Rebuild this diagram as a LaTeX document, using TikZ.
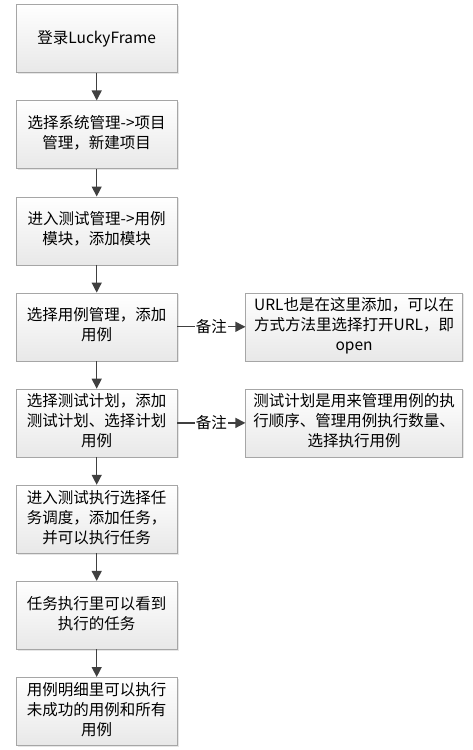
\documentclass[tikz,border=0pt]{standalone}
\usepackage{fontspec}
\setmainfont{Noto Sans CJK SC}
\usepackage{tikz}
\usetikzlibrary{positioning}
\usetikzlibrary{shadows}
\usetikzlibrary{arrows.meta}
\begin{document}
\begin{tikzpicture}[x=1pt,y=1pt]
% définition des paramètres
\tikzstyle etapelucky=[draw=black!35,top color=white,bottom color=black!9,drop shadow={shadow xshift=1.5pt,shadow yshift=-1.5pt,opacity=0.2},minimum width=161pt,minimum height=68pt,inner sep=0pt,font=\fontsize{15.5}{20}\selectfont]
\tikzstyle notelucky=[etapelucky,minimum width=217pt]
\tikzstyle flechelucky=[draw=black!75,line width=1.3pt,-{Triangle[length=10pt,width=10pt]}]
\tikzstyle remarquelucky=[fill=white,inner sep=1pt,font=\fontsize{15.5}{20}\selectfont]
\newcommand{\ecartlucky}{27.7pt} % espace entre deux étapes
\newcommand{\ecartnote}{68pt}    % espace entre étape et note
\newcommand{\lignes}[1]{\begin{tabular}{@{}c@{}}#1\end{tabular}} % lignes centrées
% le cadre
\useasboundingbox (0,0) rectangle (472,-750);
% les étapes
\node[etapelucky] (login) at (96.7,-38.5) {登录LuckyFrame};
\node[etapelucky,below=\ecartlucky of login] (projet) {\lignes{选择系统管理->项目\\管理，新建项目}};
\node[etapelucky,below=\ecartlucky of projet] (module) {\lignes{进入测试管理->用例\\模块，添加模块}};
\node[etapelucky,below=\ecartlucky of module] (cas) {\lignes{选择用例管理，添加\\用例}};
\node[etapelucky,below=\ecartlucky of cas] (plan) {\lignes{选择测试计划，添加\\测试计划、选择计划\\用例}};
\node[etapelucky,below=\ecartlucky of plan] (tache) {\lignes{进入测试执行选择任\\务调度，添加任务，\\并可以执行任务}};
\node[etapelucky,below=\ecartlucky of tache] (suivi) {\lignes{任务执行里可以看到\\执行的任务}};
\node[etapelucky,below=\ecartlucky of suivi] (detail) {\lignes{用例明细里可以执行\\未成功的用例和所有\\用例}};
% les notes
\node[notelucky,right=\ecartnote of cas] (noteurl) {\lignes{URL也是在这里添加，可以在\\方式方法里选择打开URL，即\\open}};
\node[notelucky,right=\ecartnote of plan] (noteplan) {\lignes{测试计划是用来管理用例的执\\行顺序、管理用例执行数量、\\选择执行用例}};
% les flèches
\foreach \a/\b in {login/projet,projet/module,module/cas,cas/plan,plan/tache,tache/suivi,suivi/detail}
    \draw[flechelucky] (\a) -- (\b);
\draw[flechelucky] (cas) -- node[remarquelucky] {备注} (noteurl);
\draw[flechelucky] (plan) -- node[remarquelucky] {备注} (noteplan);
\end{tikzpicture}
\end{document}
